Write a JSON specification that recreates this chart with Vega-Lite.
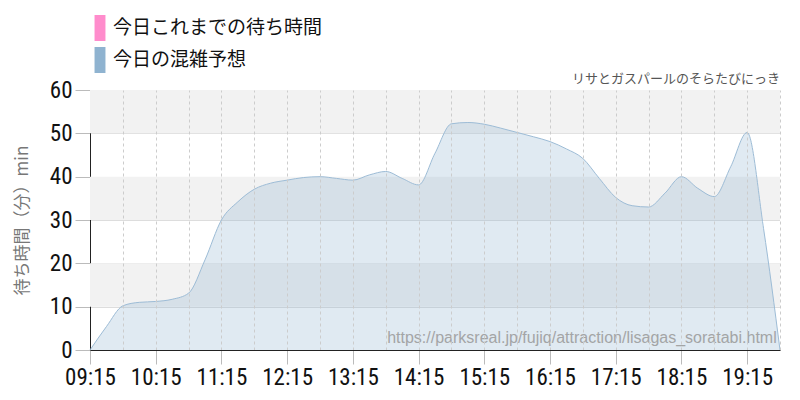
{
  "$schema": "https://vega.github.io/schema/vega-lite/v6.json",
  "width": 690,
  "height": 260,
  "autosize": "none",
  "padding": {"left": 90, "top": 90, "right": 20, "bottom": 50},
  "background": "white",
  "title": {
    "text": "リサとガスパールのそらたびにっき",
    "anchor": "end",
    "frame": "group",
    "font": "Noto Sans CJK JP",
    "fontSize": 13,
    "fontWeight": "normal",
    "color": "#555555",
    "offset": 5,
    "dy": 76
  },
  "config": {
    "view": {"stroke": null},
    "axisY": {
      "values": [0, 10, 20, 30, 40, 50, 60],
      "grid": true,
      "gridColor": "#bbbbbb",
      "gridDash": [1, 1],
      "tickColor": "#bbbbbb",
      "tickSize": 15,
      "labelPadding": 3,
      "labelFont": "Roboto Condensed, Liberation Sans Narrow, DejaVu Sans Condensed, sans-serif",
      "labelFontSize": 23,
      "labelColor": "#111111",
      "domainColor": "#222222",
      "titleFont": "Noto Sans CJK JP",
      "titleFontSize": 17,
      "titleFontWeight": "normal",
      "titleColor": "#777777",
      "titlePadding": 18,
      "zindex": 1
    },
    "legend": {
      "orient": "none",
      "legendX": -3,
      "legendY": -75,
      "direction": "vertical",
      "symbolType": "M-0.42,-1H0.42V1H-0.42Z",
      "symbolSize": 676,
      "symbolOpacity": 1,
      "symbolStrokeWidth": 0,
      "labelFont": "Noto Sans CJK JP",
      "labelFontSize": 19,
      "labelLimit": 400,
      "labelColor": "#111111",
      "labelOffset": 0,
      "rowPadding": 6,
      "padding": 0
    }
  },
  "datasets": {
    "forecast": [
      {"time": "2024-01-01T09:15", "wait": 0, "series": "今日の混雑予想"},
      {"time": "2024-01-01T09:30", "wait": 5.4, "series": "今日の混雑予想"},
      {"time": "2024-01-01T09:45", "wait": 10.2, "series": "今日の混雑予想"},
      {"time": "2024-01-01T10:00", "wait": 11.0, "series": "今日の混雑予想"},
      {"time": "2024-01-01T10:15", "wait": 11.2, "series": "今日の混雑予想"},
      {"time": "2024-01-01T10:30", "wait": 11.7, "series": "今日の混雑予想"},
      {"time": "2024-01-01T10:45", "wait": 13.1, "series": "今日の混雑予想"},
      {"time": "2024-01-01T11:00", "wait": 20.8, "series": "今日の混雑予想"},
      {"time": "2024-01-01T11:15", "wait": 30.0, "series": "今日の混雑予想"},
      {"time": "2024-01-01T11:30", "wait": 34.2, "series": "今日の混雑予想"},
      {"time": "2024-01-01T11:45", "wait": 37.1, "series": "今日の混雑予想"},
      {"time": "2024-01-01T12:00", "wait": 38.5, "series": "今日の混雑予想"},
      {"time": "2024-01-01T12:15", "wait": 39.2, "series": "今日の混雑予想"},
      {"time": "2024-01-01T12:30", "wait": 39.8, "series": "今日の混雑予想"},
      {"time": "2024-01-01T12:45", "wait": 40.0, "series": "今日の混雑予想"},
      {"time": "2024-01-01T13:00", "wait": 39.6, "series": "今日の混雑予想"},
      {"time": "2024-01-01T13:15", "wait": 39.2, "series": "今日の混雑予想"},
      {"time": "2024-01-01T13:30", "wait": 40.4, "series": "今日の混雑予想"},
      {"time": "2024-01-01T13:45", "wait": 41.2, "series": "今日の混雑予想"},
      {"time": "2024-01-01T14:00", "wait": 39.6, "series": "今日の混雑予想"},
      {"time": "2024-01-01T14:15", "wait": 38.1, "series": "今日の混雑予想"},
      {"time": "2024-01-01T14:30", "wait": 45.4, "series": "今日の混雑予想"},
      {"time": "2024-01-01T14:45", "wait": 52.2, "series": "今日の混雑予想"},
      {"time": "2024-01-01T15:00", "wait": 52.5, "series": "今日の混雑予想"},
      {"time": "2024-01-01T15:15", "wait": 52.1, "series": "今日の混雑予想"},
      {"time": "2024-01-01T15:30", "wait": 51.2, "series": "今日の混雑予想"},
      {"time": "2024-01-01T15:45", "wait": 50.2, "series": "今日の混雑予想"},
      {"time": "2024-01-01T16:00", "wait": 49.2, "series": "今日の混雑予想"},
      {"time": "2024-01-01T16:15", "wait": 48.1, "series": "今日の混雑予想"},
      {"time": "2024-01-01T16:30", "wait": 46.4, "series": "今日の混雑予想"},
      {"time": "2024-01-01T16:45", "wait": 44.2, "series": "今日の混雑予想"},
      {"time": "2024-01-01T17:00", "wait": 39.6, "series": "今日の混雑予想"},
      {"time": "2024-01-01T17:15", "wait": 35.2, "series": "今日の混雑予想"},
      {"time": "2024-01-01T17:30", "wait": 33.3, "series": "今日の混雑予想"},
      {"time": "2024-01-01T17:45", "wait": 33.0, "series": "今日の混雑予想"},
      {"time": "2024-01-01T18:00", "wait": 36.2, "series": "今日の混雑予想"},
      {"time": "2024-01-01T18:15", "wait": 40.0, "series": "今日の混雑予想"},
      {"time": "2024-01-01T18:30", "wait": 37.3, "series": "今日の混雑予想"},
      {"time": "2024-01-01T18:45", "wait": 35.4, "series": "今日の混雑予想"},
      {"time": "2024-01-01T19:00", "wait": 42.3, "series": "今日の混雑予想"},
      {"time": "2024-01-01T19:15", "wait": 50.2, "series": "今日の混雑予想"},
      {"time": "2024-01-01T19:30", "wait": 28.0, "series": "今日の混雑予想"},
      {"time": "2024-01-01T19:45", "wait": 0, "series": "今日の混雑予想"}
    ],
    "bands": [
      {"lo": 50, "hi": 60},
      {"lo": 30, "hi": 40},
      {"lo": 10, "hi": 20}
    ],
    "source": [
      {"time": "2024-01-01T19:42", "wait": 1.6, "label": "https://parksreal.jp/fujiq/attraction/lisagas_soratabi.html"}
    ]
  },
  "resolve": {"axis": {"x": "independent"}},
  "layer": [
    {
      "data": {"name": "bands"},
      "mark": {"type": "rect", "fill": "#f2f2f2"},
      "encoding": {
        "y": {"field": "lo", "type": "quantitative", "scale": {"domain": [0, 60], "nice": false}, "title": "待ち時間（分）min"},
        "y2": {"field": "hi"}
      }
    },
    {
      "data": {"name": "forecast"},
      "mark": {"type": "area", "interpolate": "monotone", "fillOpacity": 0.28},
      "encoding": {
        "x": {
          "field": "time",
          "type": "temporal",
          "scale": {"domain": [
            {"year": 2024, "month": 1, "date": 1, "hours": 9, "minutes": 15},
            {"year": 2024, "month": 1, "date": 1, "hours": 19, "minutes": 45}
          ]},
          "axis": {
            "orient": "bottom",
            "title": null,
            "format": "%H:%M",
            "grid": false,
            "values": [
              {"year": 2024, "month": 1, "date": 1, "hours": 9, "minutes": 15},
              {"year": 2024, "month": 1, "date": 1, "hours": 10, "minutes": 15},
              {"year": 2024, "month": 1, "date": 1, "hours": 11, "minutes": 15},
              {"year": 2024, "month": 1, "date": 1, "hours": 12, "minutes": 15},
              {"year": 2024, "month": 1, "date": 1, "hours": 13, "minutes": 15},
              {"year": 2024, "month": 1, "date": 1, "hours": 14, "minutes": 15},
              {"year": 2024, "month": 1, "date": 1, "hours": 15, "minutes": 15},
              {"year": 2024, "month": 1, "date": 1, "hours": 16, "minutes": 15},
              {"year": 2024, "month": 1, "date": 1, "hours": 17, "minutes": 15},
              {"year": 2024, "month": 1, "date": 1, "hours": 18, "minutes": 15},
              {"year": 2024, "month": 1, "date": 1, "hours": 19, "minutes": 15}
            ],
            "tickColor": "#bbbbbb",
            "tickSize": 14,
            "labelPadding": 2,
            "labelFlush": false,
            "labelFont": "Roboto Condensed, Liberation Sans Narrow, DejaVu Sans Condensed, sans-serif",
            "labelFontSize": 23,
            "labelColor": "#111111",
            "domainColor": "#222222",
            "zindex": 1
          }
        },
        "y": {"field": "wait", "type": "quantitative", "title": "待ち時間（分）min"},
        "color": {
          "field": "series",
          "type": "nominal",
          "title": null,
          "scale": {"domain": ["今日これまでの待ち時間", "今日の混雑予想"], "range": ["#ff8ccc", "#8fb3d0"]}
        }
      }
    },
    {
      "data": {"name": "forecast"},
      "mark": {"type": "line", "interpolate": "monotone", "color": "#9dbcd6", "strokeWidth": 1},
      "encoding": {
        "x": {
          "field": "time",
          "type": "temporal",
          "axis": {
            "orient": "top",
            "title": null,
            "labels": false,
            "ticks": false,
            "domain": false,
            "grid": true,
            "gridColor": "#cccccc",
            "gridDash": [3, 3],
            "values": [
              {"year": 2024, "month": 1, "date": 1, "hours": 9, "minutes": 45},
              {"year": 2024, "month": 1, "date": 1, "hours": 10, "minutes": 15},
              {"year": 2024, "month": 1, "date": 1, "hours": 10, "minutes": 45},
              {"year": 2024, "month": 1, "date": 1, "hours": 11, "minutes": 15},
              {"year": 2024, "month": 1, "date": 1, "hours": 11, "minutes": 45},
              {"year": 2024, "month": 1, "date": 1, "hours": 12, "minutes": 15},
              {"year": 2024, "month": 1, "date": 1, "hours": 12, "minutes": 45},
              {"year": 2024, "month": 1, "date": 1, "hours": 13, "minutes": 15},
              {"year": 2024, "month": 1, "date": 1, "hours": 13, "minutes": 45},
              {"year": 2024, "month": 1, "date": 1, "hours": 14, "minutes": 15},
              {"year": 2024, "month": 1, "date": 1, "hours": 14, "minutes": 45},
              {"year": 2024, "month": 1, "date": 1, "hours": 15, "minutes": 15},
              {"year": 2024, "month": 1, "date": 1, "hours": 15, "minutes": 45},
              {"year": 2024, "month": 1, "date": 1, "hours": 16, "minutes": 15},
              {"year": 2024, "month": 1, "date": 1, "hours": 16, "minutes": 45},
              {"year": 2024, "month": 1, "date": 1, "hours": 17, "minutes": 15},
              {"year": 2024, "month": 1, "date": 1, "hours": 17, "minutes": 45},
              {"year": 2024, "month": 1, "date": 1, "hours": 18, "minutes": 15},
              {"year": 2024, "month": 1, "date": 1, "hours": 18, "minutes": 45},
              {"year": 2024, "month": 1, "date": 1, "hours": 19, "minutes": 15},
              {"year": 2024, "month": 1, "date": 1, "hours": 19, "minutes": 45}
            ],
            "zindex": 1
          }
        },
        "y": {"field": "wait", "type": "quantitative", "title": "待ち時間（分）min"}
      }
    },
    {
      "data": {"name": "source"},
      "mark": {"type": "text", "align": "right", "baseline": "alphabetic", "font": "Liberation Sans", "fontSize": 16, "color": "#999999", "opacity": 0.85},
      "encoding": {
        "x": {"field": "time", "type": "temporal", "axis": null},
        "y": {"field": "wait", "type": "quantitative", "title": "待ち時間（分）min"},
        "text": {"field": "label"}
      }
    }
  ]
}
